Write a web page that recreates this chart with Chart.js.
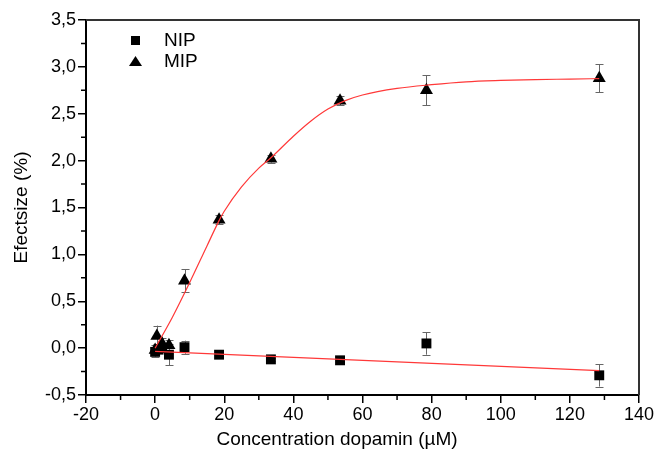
<!DOCTYPE html>
<html>
<head>
<meta charset="utf-8">
<script src="https://cdn.jsdelivr.net/npm/chart.js@4.4.1/dist/chart.umd.min.js"></script>
<style>
html,body{margin:0;padding:0;background:#fff;}
#wrap{width:657px;height:455px;position:relative;}
</style>
</head>
<body>
<div id="wrap"><canvas id="c" width="657" height="455"></canvas></div>
<script>
// ---- data ----
const nipX   = [0, 1, 2, 4, 8.5, 18.5, 33.5, 53.5, 78.5, 128.5];
const nipY   = [-0.04, -0.01, 0.00, -0.07, 0.01, -0.07, -0.12, -0.13, 0.05, -0.29];
const nipErr = [0.05, 0.05, 0.04, 0.11, 0.07, 0.02, 0.02, 0.04, 0.12, 0.12];

const mipX   = [0, 0.5, 2, 4, 8.5, 18.5, 33.5, 53.5, 78.5, 128.5];
const mipY   = [-0.02, 0.13, 0.05, 0.03, 0.72, 1.37, 2.02, 2.64, 2.75, 2.88];
const mipErr = [0.05, 0.11, 0.06, 0.06, 0.12, 0.05, 0.04, 0.05, 0.16, 0.15];

const mipFitX = [0, 5, 10, 15, 18.5, 20, 25, 30, 33.5, 40, 45, 50, 55, 60, 70, 80, 90, 100, 110, 120, 128.5];
const mipFitY = [0.0, 0.33, 0.70, 1.09, 1.36, 1.46, 1.72, 1.92, 2.03, 2.26, 2.42, 2.55, 2.64, 2.70, 2.77, 2.81, 2.84, 2.855, 2.865, 2.87, 2.875];

const nipFitX = [0, 128.5];
const nipFitY = [-0.035, -0.24];

const xTicks = [-20, 0, 20, 40, 60, 80, 100, 120, 140];
const yTicks = [-0.5, 0, 0.5, 1.0, 1.5, 2.0, 2.5, 3.0, 3.5];

const seriesNames = ['NIP', 'MIP'];
const xTitle = 'Concentration dopamin (µM)';
const yTitle = 'Efectsize (%)';

const FONT = "'Liberation Sans', Arial, sans-serif";

const pts = (xs, ys) => xs.map((x, i) => ({x: x, y: ys[i]}));

const errorBars = {
  id: 'errorBars',
  beforeDatasetsDraw(chart) {
    const ctx = chart.ctx, xs = chart.scales.x, ys = chart.scales.y;
    const sets = [[nipX, nipY, nipErr], [mipX, mipY, mipErr]];
    ctx.save();
    ctx.strokeStyle = '#666';
    ctx.lineWidth = 1;
    sets.forEach(([X, Y, E]) => {
      X.forEach((xv, i) => {
        const px = Math.round(xs.getPixelForValue(xv)) + 0.5;
        const y1 = ys.getPixelForValue(Y[i] + E[i]);
        const y2 = ys.getPixelForValue(Y[i] - E[i]);
        ctx.beginPath();
        ctx.moveTo(px, y1); ctx.lineTo(px, y2);
        ctx.moveTo(px - 4, Math.round(y1) + 0.5); ctx.lineTo(px + 4, Math.round(y1) + 0.5);
        ctx.moveTo(px - 4, Math.round(y2) + 0.5); ctx.lineTo(px + 4, Math.round(y2) + 0.5);
        ctx.stroke();
      });
    });
    ctx.restore();
  }
};

const frameAndTicks = {
  id: 'frameAndTicks',
  afterDraw(chart) {
    const ctx = chart.ctx, a = chart.chartArea, xs = chart.scales.x, ys = chart.scales.y;
    ctx.save();
    // top and right frame
    ctx.strokeStyle = '#333';
    ctx.lineWidth = 2;
    ctx.beginPath();
    ctx.moveTo(a.left, a.top); ctx.lineTo(a.right, a.top); ctx.lineTo(a.right, a.bottom);
    ctx.stroke();
    // minor ticks
    ctx.strokeStyle = '#000';
    ctx.lineWidth = 1.5;
    ctx.beginPath();
    for (let i = 0; i < xTicks.length - 1; i++) {
      const v = (xTicks[i] + xTicks[i + 1]) / 2;
      const p = xs.getPixelForValue(v);
      ctx.moveTo(p, a.bottom); ctx.lineTo(p, a.bottom + 5);
    }
    for (let i = 0; i < yTicks.length - 1; i++) {
      const v = (yTicks[i] + yTicks[i + 1]) / 2;
      const p = ys.getPixelForValue(v);
      ctx.moveTo(a.left, p); ctx.lineTo(a.left - 5, p);
    }
    ctx.stroke();
    // x-axis title (placed as in the reference, slightly left of centre)
    ctx.fillStyle = '#000';
    ctx.font = '19px ' + FONT;
    ctx.textAlign = 'center';
    ctx.textBaseline = 'middle';
    ctx.fillText(xTitle, 337, 440);
    // legend
    ctx.fillRect(131, 36, 9, 9);
    ctx.beginPath();
    ctx.moveTo(135.5, 56); ctx.lineTo(142, 66); ctx.lineTo(129, 66); ctx.closePath();
    ctx.fill();
    ctx.textAlign = 'left';
    ctx.fillText(seriesNames[0], 164, 40.5);
    ctx.fillText(seriesNames[1], 164, 62);
    ctx.restore();
  }
};

new Chart(document.getElementById('c'), {
  type: 'scatter',
  data: {
    datasets: [
      {label: 'MIP fit', data: pts(mipFitX, mipFitY), showLine: true, borderColor: '#ff3838', borderWidth: 1.2,
       pointRadius: 0, cubicInterpolationMode: 'monotone', fill: false, order: 0},
      {label: 'NIP fit', data: pts(nipFitX, nipFitY), showLine: true, borderColor: '#ff3838', borderWidth: 1.2,
       pointRadius: 0, fill: false, order: 0},
      {label: seriesNames[0], data: pts(nipX, nipY), pointStyle: 'rect', pointRadius: 7,
       backgroundColor: '#000', borderColor: '#000', borderWidth: 0, order: 1},
      {label: seriesNames[1], data: pts(mipX, mipY), pointStyle: 'triangle', pointRadius: 7.5,
       backgroundColor: '#000', borderColor: '#000', borderWidth: 0, order: 1}
    ]
  },
  options: {
    responsive: false,
    animation: false,
    devicePixelRatio: 1,
    layout: {padding: {top: 20, right: 18, left: 0, bottom: 0}},
    plugins: {legend: {display: false}, tooltip: {enabled: false}},
    scales: {
      x: {
        type: 'linear', min: -20, max: 140,
        afterFit: s => { s.height = 60; },
        afterBuildTicks: s => { s.ticks = xTicks.map(v => ({value: v})); },
        ticks: {font: {family: FONT, size: 18}, color: '#000', padding: 1,
                callback: v => String(v)},
        grid: {display: true, drawOnChartArea: false, drawTicks: true, tickLength: 8, color: '#000', lineWidth: 1.5},
        border: {display: true, color: '#000', width: 2},
        title: {display: false}
      },
      y: {
        type: 'linear', min: -0.5, max: 3.5,
        afterFit: s => { s.width = 86; },
        afterBuildTicks: s => { s.ticks = yTicks.map(v => ({value: v})); },
        ticks: {font: {family: FONT, size: 18}, color: '#000', padding: 2,
                callback: v => v.toFixed(1).replace('.', ',')},
        grid: {display: true, drawOnChartArea: false, drawTicks: true, tickLength: 8, color: '#000', lineWidth: 1.5},
        border: {display: true, color: '#000', width: 2},
        title: {display: true, text: yTitle, font: {family: FONT, size: 19}, color: '#000', padding: {top: 10, bottom: 0}}
      }
    }
  },
  plugins: [errorBars, frameAndTicks]
});
</script>
</body>
</html>
